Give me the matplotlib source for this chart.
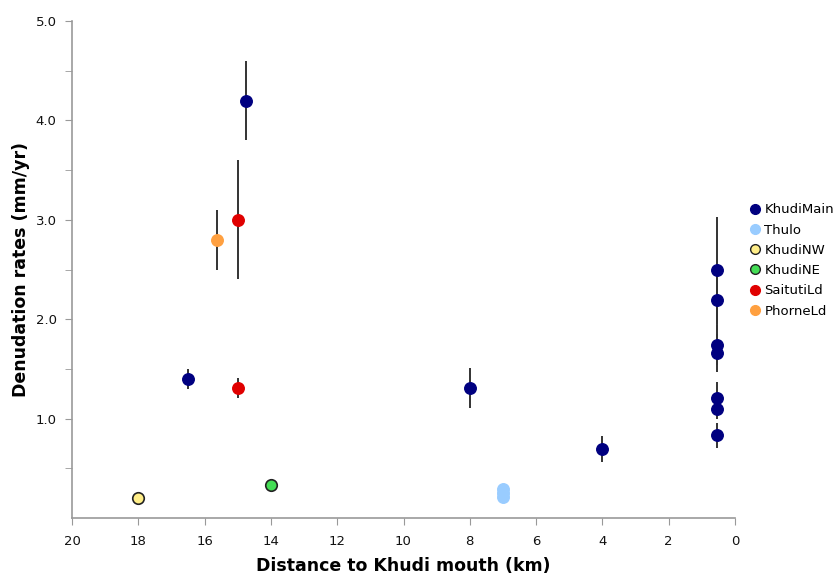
import matplotlib
matplotlib.use("Agg")
import matplotlib.pyplot as plt
import numpy as np
from matplotlib.lines import Line2D

# Data
main_x = [16.5, 14.75, 8.0, 4.0, 0.55, 0.55, 0.55, 0.55, 0.55, 0.55, 0.55]
main_y = [1.40, 4.20, 1.31, 0.69, 2.49, 2.19, 1.74, 1.66, 1.21, 1.10, 0.83]
main_e = [0.10, 0.40, 0.20, 0.13, 0.54, 0.30, 0.20, 0.19, 0.16, 0.10, 0.13]

thulo_x = [7.0, 7.0, 7.0]
thulo_y = [0.29, 0.25, 0.21]

nw_x = [18.0]
nw_y = [0.20]

ne_x = [14.0]
ne_y = [0.33]

sait_x = [15.0, 15.0]
sait_y = [3.00, 1.31]
sait_e = [0.60, 0.10]

phor_x = [15.63]
phor_y = [2.80]
phor_e = [0.30]

x_ticks = [20, 18, 16, 14, 12, 10, 8, 6, 4, 2, 0]
y_ticks = [1.0, 2.0, 3.0, 4.0, 5.0]

fig = plt.figure(figsize=(8.35, 5.78), dpi=100)
ax = fig.add_axes([72/835, 60/578, (735-72)/835, (518-21)/578])

ecol = "#333333"
ms = 8.3
ax.errorbar(main_x, main_y, yerr=main_e, fmt="o", color="#000080", ecolor=ecol,
            elinewidth=1.4, capsize=0, ms=ms, mec="#000080", label="KhudiMain", zorder=3)
ax.plot(thulo_x, thulo_y, "o", color="#99ccff", mec="#99ccff", ms=ms, label="Thulo", zorder=3)
ax.plot(nw_x, nw_y, "o", color="#ffee88", mec="#222222", mew=1.2, ms=ms, label="KhudiNW", zorder=3)
ax.plot(ne_x, ne_y, "o", color="#44dd55", mec="#222222", mew=1.2, ms=ms, label="KhudiNE", zorder=3)
ax.errorbar(sait_x, sait_y, yerr=sait_e, fmt="o", color="#e00000", ecolor=ecol,
            elinewidth=1.4, capsize=0, ms=ms, mec="#e00000", label="SaitutiLd", zorder=3)
ax.errorbar(phor_x, phor_y, yerr=phor_e, fmt="o", color="#ffa040", ecolor=ecol,
            elinewidth=1.4, capsize=0, ms=ms, mec="#ffa040", label="PhorneLd", zorder=3)

ax.set_xlim(20, 0)
ax.set_ylim(0, 5)
ax.set_xticks(x_ticks)
ax.set_xticklabels([str(t) for t in x_ticks])
ax.set_yticks(y_ticks)
ax.set_yticklabels([f"{t:.1f}" for t in y_ticks])
ax.set_yticks(np.arange(0.5, 5.0, 1.0), minor=True)

for s in ["top", "right"]:
    ax.spines[s].set_visible(False)
for s in ["left", "bottom"]:
    ax.spines[s].set_color("#999999")
    ax.spines[s].set_linewidth(1.2)
ax.tick_params(axis="both", which="both", direction="out", length=5, color="#999999",
               labelsize=9.5, labelcolor="#111111")
ax.tick_params(axis="x", pad=7)
ax.tick_params(axis="y", pad=6)

ax.set_xlabel("Distance to Khudi mouth (km)", fontsize=12.5, fontweight="bold", labelpad=7)
ax.set_ylabel("Denudation rates (mm/yr)", fontsize=12.5, fontweight="bold", labelpad=4)

leg_handles = [
    Line2D([], [], marker="o", ls="", color="#000080", mec="#000080", ms=7),
    Line2D([], [], marker="o", ls="", color="#99ccff", mec="#99ccff", ms=7),
    Line2D([], [], marker="o", ls="", color="#ffee88", mec="#222222", mew=1, ms=7),
    Line2D([], [], marker="o", ls="", color="#44dd55", mec="#222222", mew=1, ms=7),
    Line2D([], [], marker="o", ls="", color="#e00000", mec="#e00000", ms=7),
    Line2D([], [], marker="o", ls="", color="#ffa040", mec="#ffa040", ms=7),
]
leg_labels = ["KhudiMain", "Thulo", "KhudiNW", "KhudiNE", "SaitutiLd", "PhorneLd"]
fig.legend(leg_handles, leg_labels, loc="upper left", bbox_to_anchor=(742/835, 1 - 198/578),
           frameon=False, fontsize=9.5, handletextpad=0.1, labelspacing=0.55,
           handlelength=1.2, borderaxespad=0)

fig.savefig("out.png", dpi=100)
